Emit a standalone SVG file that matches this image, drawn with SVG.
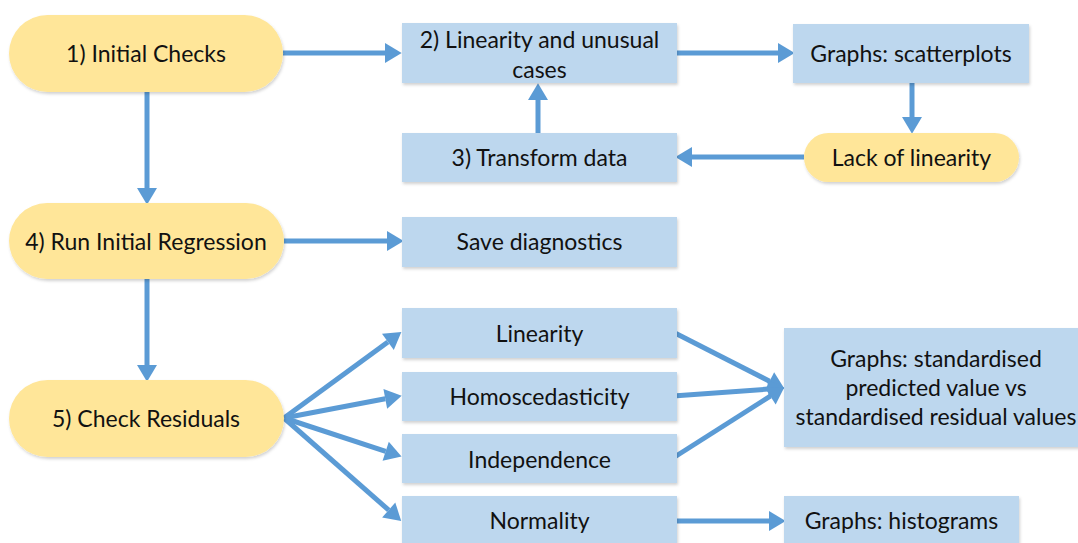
<svg xmlns="http://www.w3.org/2000/svg" width="1078" height="543" viewBox="0 0 1078 543">
<style>
text{font-family:Lato,"Open Sans","Liberation Sans",sans-serif;font-size:23px;fill:#111;text-anchor:middle;dominant-baseline:central}
.pill{fill:#FFE699;filter:url(#sh)}
.box{fill:#BDD7EE;filter:url(#sh)}
.c line{stroke:#5B9BD5;stroke-width:5;marker-end:url(#ah)}
</style>
<defs>
<filter id="sh" x="-5%" y="-10%" width="110%" height="130%">
<feDropShadow dx="1" dy="2" stdDeviation="1.5" flood-color="#000" flood-opacity="0.18"/>
</filter>
<marker id="ah" markerUnits="userSpaceOnUse" markerWidth="18" markerHeight="20" refX="0" refY="9" orient="auto" viewBox="0 0 16 18" overflow="visible">
<path d="M0,0 L15,9 L0,18 Z" fill="#5B9BD5"/>
</marker>
</defs>
<g class="c" id="connectors">
<line x1="283" y1="53" x2="385" y2="53"/>
<line x1="677" y1="53" x2="778" y2="53"/>
<line x1="912" y1="83" x2="912" y2="117"/>
<line x1="804" y1="157" x2="692" y2="157"/>
<line x1="538" y1="133" x2="538" y2="100"/>
<line x1="147" y1="91" x2="147" y2="188"/>
<line x1="284" y1="241" x2="387" y2="241"/>
<line x1="147" y1="279" x2="147" y2="365"/>
<line x1="284" y1="418" x2="387.9" y2="341.9"/>
<line x1="284" y1="418" x2="385.3" y2="398.8"/>
<line x1="284" y1="418" x2="385.7" y2="451.3"/>
<line x1="284" y1="418" x2="388.7" y2="510.1"/>
<line x1="673" y1="332" x2="769.6" y2="381.2"/>
<line x1="673" y1="396" x2="768" y2="389.1"/>
<line x1="673" y1="458" x2="770.3" y2="396.1"/>
<line x1="676" y1="521" x2="769" y2="521"/>
</g>
<g id="n1"><rect class="pill" x="9" y="15" width="274" height="77" rx="38.5"/><text x="146" y="53">1) Initial Checks</text></g>
<g id="n2"><rect class="box" x="402" y="23" width="275" height="60"/><text x="539.5" y="39">2) Linearity and unusual</text><text x="539.5" y="69">cases</text></g>
<g id="n3"><rect class="box" x="793" y="24" width="236" height="59"/><text x="911" y="53">Graphs: scatterplots</text></g>
<g id="n4"><rect class="pill" x="804" y="133" width="215" height="49" rx="24.5"/><text x="911.5" y="157">Lack of linearity</text></g>
<g id="n5"><rect class="box" x="402" y="133" width="275" height="49"/><text x="539.5" y="157">3) Transform data</text></g>
<g id="n6"><rect class="pill" x="9" y="203" width="275" height="76" rx="38"/><text x="146" y="241">4) Run Initial Regression</text></g>
<g id="n7"><rect class="box" x="402" y="217" width="275" height="50"/><text x="539.5" y="241">Save diagnostics</text></g>
<g id="n8"><rect class="pill" x="9" y="380" width="275" height="77" rx="38.5"/><text x="146" y="418">5) Check Residuals</text></g>
<g id="n9"><rect class="box" x="402" y="308" width="275" height="50"/><text x="539.5" y="333">Linearity</text></g>
<g id="n10"><rect class="box" x="402" y="372" width="275" height="49"/><text x="539.5" y="396">Homoscedasticity</text></g>
<g id="n11"><rect class="box" x="402" y="434" width="275" height="49"/><text x="539.5" y="459">Independence</text></g>
<g id="n12"><rect class="box" x="402" y="496" width="275" height="50"/><text x="539.5" y="520">Normality</text></g>
<g id="n13"><rect class="box" x="784" y="328" width="300" height="119"/><text x="936" y="358">Graphs: standardised</text><text x="936" y="387">predicted value vs</text><text x="936" y="416">standardised residual values</text></g>
<g id="n14"><rect class="box" x="784" y="496" width="235" height="50"/><text x="901.5" y="520">Graphs: histograms</text></g>
</svg>
